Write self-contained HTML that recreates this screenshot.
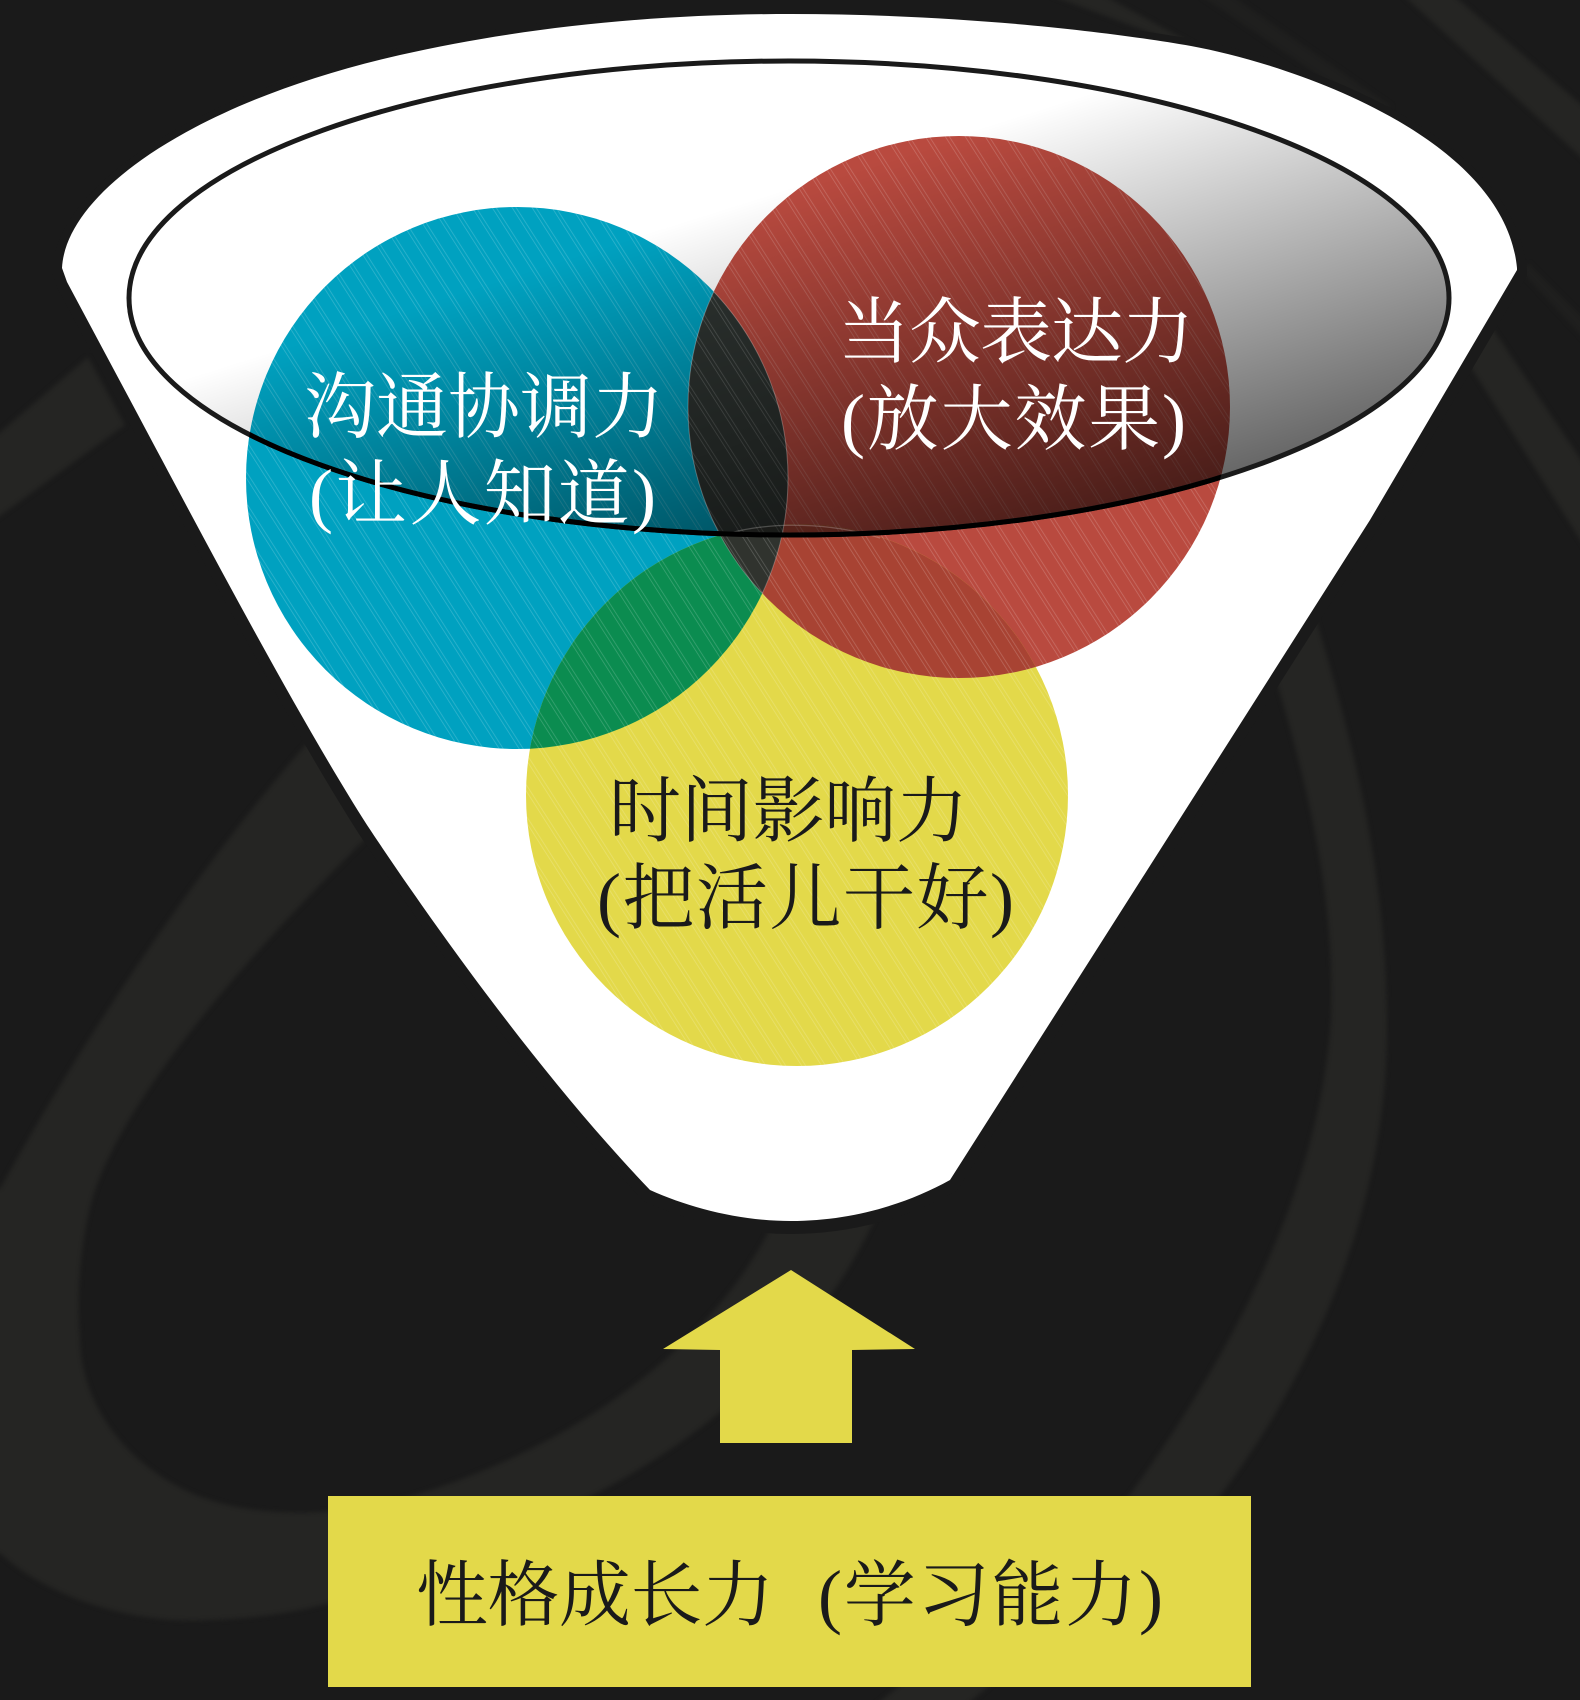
<!DOCTYPE html>
<html lang="zh">
<head>
<meta charset="utf-8">
<title>性格成长力</title>
<style>
html,body{margin:0;padding:0;background:#1a1a1a;width:1580px;height:1700px;overflow:hidden}
svg{display:block}
text{font-family:"Liberation Serif","Noto Serif CJK SC",serif;font-size:72px}
</style>
</head>
<body>
<svg xmlns="http://www.w3.org/2000/svg" width="1580" height="1700" viewBox="0 0 1580 1700">
<defs>
  <clipPath id="cb"><circle cx="517" cy="478" r="271"/></clipPath>
  <clipPath id="cr"><circle cx="959" cy="407" r="271"/></clipPath>
  <clipPath id="cy"><circle cx="797" cy="795" r="271"/></clipPath>
  <clipPath id="cu">
    <circle cx="517" cy="478" r="271"/>
    <circle cx="959" cy="407" r="271"/>
    <circle cx="797" cy="795" r="271"/>
  </clipPath>
  <clipPath id="cbr">
    <circle cx="517" cy="478" r="271"/>
    <circle cx="959" cy="407" r="271"/>
  </clipPath>
  <clipPath id="ce"><ellipse cx="789" cy="298" rx="660" ry="237"/></clipPath>
  <pattern id="hatch" width="16.8" height="40" patternUnits="userSpaceOnUse" patternTransform="rotate(-32.6)">
    <rect x="0" y="0" width="0.7" height="40" fill="#fff" fill-opacity=".22"/>
    <rect x="3.4" y="0" width="0.7" height="40" fill="#fff" fill-opacity=".22"/>
  </pattern>
  <linearGradient id="shade" gradientUnits="userSpaceOnUse" x1="1125" y1="82" x2="1258" y2="504">
    <stop offset="0" stop-color="#000" stop-opacity="0"/>
    <stop offset="1" stop-color="#000" stop-opacity=".65"/>
  </linearGradient>
  <filter id="soft" x="-5%" y="-5%" width="110%" height="110%" color-interpolation-filters="sRGB"><feGaussianBlur stdDeviation="2.5"/></filter>
</defs>

<rect width="1580" height="1700" fill="#1a1a1a"/>

<!-- background swirl bands -->
<g fill="#252523" filter="url(#soft)">
  <path d="M310,740 C230,830 110,990 0,1189 L-10,1189 L-10,1553 L0,1553 C50,1600 140,1625 210,1620 C260,1618 300,1612 340,1600 L593,1495 C700,1440 850,1330 900,1150 L780,1150 L768,1233 C700,1360 560,1450 421,1493 C340,1520 240,1520 179,1487 C110,1450 80,1390 80,1337 C75,1280 85,1220 95,1190 C130,1090 250,950 390,815 Z"/>
  <path d="M1310,600 C1350,730 1385,860 1387,1017 C1390,1220 1300,1390 1220,1496 L960,1710 L870,1710 L1129,1496 C1220,1370 1320,1200 1331,1017 C1335,900 1310,790 1270,660 Z"/>
  <path d="M-10,441 L88,357 L125,425 L-10,523 Z"/>
  <path d="M1050,-5 L1183,45 L1240,70 L1103,-5 Z"/>
  <path d="M1403,-5 L1453,-5 L1590,112 L1590,165 Z"/>
  <path d="M1480,310 L1590,473 L1590,555 L1460,350 Z"/>
</g>
<g fill="#1f1f1e" filter="url(#soft)">
  <path d="M1231,-5 L1392,107 L1370,110 L1200,-5 Z"/>
  <path d="M1528,263 L1590,325 L1590,345 L1522,272 Z"/>
</g>

<!-- funnel shadow -->
<path d="M62,268 C66,190 200,100 400,55 C520,28 650,14 791,14 C950,14 1100,30 1191,46 C1300,66 1505,140 1517,268 L1517,270 L1370,520 L950,1180 C905,1205 850,1221 791,1221 C740,1221 690,1208 650,1190 C540,1075 430,920 367,825 C300,720 210,550 137,413 L67,282 Z" fill="#1a1a1a" stroke="#1a1a1a" stroke-width="20" transform="translate(0,3)"/>

<!-- funnel -->
<path d="M62,268 C66,190 200,100 400,55 C520,28 650,14 791,14 C950,14 1100,30 1191,46 C1300,66 1505,140 1517,268 L1517,270 L1370,520 L950,1180 C905,1205 850,1221 791,1221 C740,1221 690,1208 650,1190 C540,1075 430,920 367,825 C300,720 210,550 137,413 L67,282 Z" fill="#fff"/>

<!-- circles -->
<circle cx="517" cy="478" r="271" fill="#00a1c0"/>
<circle cx="959" cy="407" r="271" fill="#b94a3f"/>
<circle cx="797" cy="795" r="271" fill="#e3d94a"/>

<!-- intersections -->
<g clip-path="url(#cb)"><circle cx="797" cy="795" r="271" fill="#0b8c50"/></g>
<g clip-path="url(#cr)"><circle cx="797" cy="795" r="271" fill="#a84333"/></g>
<g clip-path="url(#cb)"><circle cx="959" cy="407" r="271" fill="#2e3431"/></g>
<g clip-path="url(#cb)"><g clip-path="url(#cr)"><circle cx="797" cy="795" r="271" fill="#30332e"/></g></g>

<!-- hatch -->
<g clip-path="url(#cu)"><rect x="240" y="130" width="1000" height="940" fill="url(#hatch)"/></g>

<!-- ellipse shading -->
<g clip-path="url(#ce)"><rect x="120" y="55" width="1340" height="490" fill="url(#shade)"/></g>

<!-- faint edges -->
<g clip-path="url(#cr)"><circle cx="517" cy="478" r="271" fill="none" stroke="#fff" stroke-opacity=".25" stroke-width="1"/></g>
<g clip-path="url(#cb)"><circle cx="959" cy="407" r="271" fill="none" stroke="#fff" stroke-opacity=".25" stroke-width="1"/></g>
<path d="M730,533 C770,522 830,522 880,538" fill="none" stroke="#fff" stroke-opacity=".22" stroke-width="1.2"/>

<!-- ellipse outline -->
<ellipse cx="789" cy="298" rx="660" ry="237" fill="none" stroke="#1a1a1a" stroke-width="5"/>
<g clip-path="url(#cbr)"><ellipse cx="789" cy="298" rx="660" ry="237" fill="none" stroke="#000" stroke-width="5"/></g>

<!-- labels -->
<text x="304" y="432" fill="#fff" textLength="360">沟通协调力</text>
<text x="309" y="519" fill="#fff" textLength="347">(让人知道)</text>
<text x="838" y="357" fill="#fff" textLength="356">当众表达力</text>
<text x="841" y="444" fill="#fff" textLength="345">(放大效果)</text>
<text x="609" y="836" fill="#1a1a1a" textLength="359">时间影响力</text>
<text x="597" y="923" fill="#1a1a1a" textLength="417">(把活儿干好)</text>

<!-- arrow -->
<polygon points="791,1270 915,1349 852,1350 852,1443 720,1443 720,1350 663,1349" fill="#e3d94a"/>

<!-- box -->
<rect x="328" y="1496" width="923" height="191" fill="#e3d94a"/>
<text x="416" y="1620" fill="#1a1a1a" textLength="358">性格成长力</text>
<text x="818" y="1620" fill="#1a1a1a" textLength="345">(学习能力)</text>
</svg>
</body>
</html>
